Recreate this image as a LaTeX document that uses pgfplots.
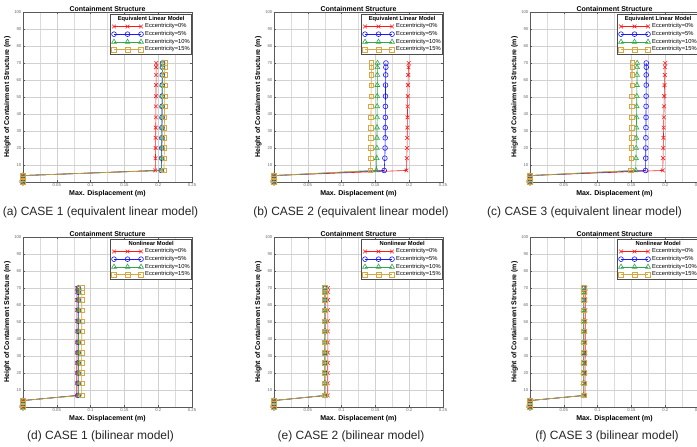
\documentclass[border=0pt]{standalone}
\usepackage{pgfplots}
\pgfplotsset{compat=1.18}
\usepackage{pgfplotstable}
\usepackage{fontspec}
\setmainfont{Liberation Sans}

\definecolor{cRed}{rgb}{1,0.1,0.1}
\definecolor{cBlue}{rgb}{0.1,0.1,1}
\definecolor{cGreen}{rgb}{0.2,0.65,0.3}
\definecolor{cYel}{rgb}{0.85,0.65,0.25}

% columns: h = height (m), e0/e5/e10/e15 = max displacement (m)
\pgfplotstableread{
h    e0     e5     e10    e15
0    0      0      0      0
1.9  0      0      0      0
3.8  0      0      0      0
6.8  0.1955 0.2045 0.2050 0.2085
14   0.1960 0.2050 0.2053 0.2088
20   0.1962 0.2052 0.2055 0.2090
26   0.1963 0.2054 0.2056 0.2091
32   0.1964 0.2055 0.2057 0.2092
38   0.1965 0.2056 0.2058 0.2093
44.5 0.1966 0.2057 0.2059 0.2094
50.5 0.1967 0.2058 0.2060 0.2095
57   0.1968 0.2059 0.2061 0.2096
63   0.1969 0.2060 0.2062 0.2097
67.5 0.1970 0.2062 0.2063 0.2098
70   0.1971 0.2064 0.2064 0.2099
}\tabA
\pgfplotstableread{
h    e0     e5     e10    e15
0    0      0      0      0
1.9  0      0      0      0
3.8  0      0      0      0
6.8  0.1960 0.1630 0.1515 0.1425
14   0.1965 0.1640 0.1520 0.1430
20   0.1968 0.1643 0.1522 0.1432
26   0.1970 0.1645 0.1523 0.1433
32   0.1972 0.1646 0.1524 0.1434
38   0.1974 0.1647 0.1525 0.1435
44.5 0.1976 0.1648 0.1526 0.1436
50.5 0.1979 0.1649 0.1527 0.1437
57   0.1982 0.1650 0.1528 0.1438
63   0.1986 0.1652 0.1529 0.1439
67.5 0.1990 0.1654 0.1530 0.1440
70   0.1993 0.1656 0.1531 0.1441
}\tabB
\pgfplotstableread{
h    e0     e5     e10    e15
0    0      0      0      0
1.9  0      0      0      0
3.8  0      0      0      0
6.8  0.1965 0.1710 0.1565 0.1495
14   0.1968 0.1712 0.1568 0.1498
20   0.1971 0.1713 0.1570 0.1500
26   0.1974 0.1714 0.1572 0.1502
32   0.1977 0.1715 0.1574 0.1504
38   0.1980 0.1716 0.1576 0.1506
44.5 0.1983 0.1717 0.1578 0.1508
50.5 0.1986 0.1718 0.1580 0.1510
57   0.1990 0.1719 0.1582 0.1511
63   0.1994 0.1719 0.1583 0.1512
67.5 0.1997 0.1720 0.1584 0.1514
70   0.2000 0.1720 0.1585 0.1515
}\tabC
\pgfplotstableread{
h    e0     e5     e10    e15
0    0      0      0      0
1.9  0      0      0      0
3.8  0      0      0      0
6.8  0.0795 0.0815 0.0820 0.0866
14   0.0795 0.0815 0.0820 0.0867
20   0.0795 0.0815 0.0820 0.0867
26   0.0796 0.0816 0.0821 0.0868
32   0.0796 0.0816 0.0821 0.0868
38   0.0796 0.0816 0.0821 0.0868
44.5 0.0797 0.0817 0.0822 0.0869
50.5 0.0797 0.0817 0.0822 0.0869
57   0.0797 0.0817 0.0822 0.0869
63   0.0798 0.0818 0.0823 0.0870
67.5 0.0798 0.0818 0.0823 0.0870
70   0.0798 0.0818 0.0823 0.0870
}\tabD
\pgfplotstableread{
h    e0     e5     e10    e15
0    0      0      0      0
1.9  0      0      0      0
3.8  0      0      0      0
6.8  0.0795 0.0752 0.0750 0.0748
14   0.0795 0.0752 0.0750 0.0748
20   0.0795 0.0752 0.0750 0.0748
26   0.0796 0.0753 0.0751 0.0749
32   0.0796 0.0753 0.0751 0.0749
38   0.0796 0.0753 0.0751 0.0749
44.5 0.0797 0.0754 0.0752 0.0750
50.5 0.0797 0.0754 0.0752 0.0750
57   0.0797 0.0754 0.0752 0.0750
63   0.0798 0.0755 0.0753 0.0751
67.5 0.0798 0.0755 0.0753 0.0751
70   0.0798 0.0755 0.0753 0.0751
}\tabE
\pgfplotstableread{
h    e0     e5     e10    e15
0    0      0      0      0
1.9  0      0      0      0
3.8  0      0      0      0
6.8  0.0815 0.0795 0.0790 0.0795
14   0.0815 0.0795 0.0790 0.0795
20   0.0816 0.0795 0.0790 0.0795
26   0.0816 0.0796 0.0791 0.0796
32   0.0817 0.0796 0.0791 0.0796
38   0.0817 0.0796 0.0791 0.0796
44.5 0.0818 0.0797 0.0792 0.0797
50.5 0.0818 0.0797 0.0792 0.0797
57   0.0819 0.0797 0.0792 0.0797
63   0.0819 0.0798 0.0793 0.0798
67.5 0.0820 0.0798 0.0793 0.0798
70   0.0820 0.0798 0.0793 0.0798
}\tabF

\pgfplotsset{
  panel/.style={
    scale only axis, width=169pt, height=170pt,
    xmin=0, xmax=0.25, ymin=0, ymax=100,
    scaled ticks=false,
    xtick={0,0.05,0.1,0.15,0.2,0.25},
    xticklabels={0,0.05,0.1,0.15,0.2,0.25},
    ytick={0,10,20,30,40,50,60,70,80,90,100},
    yticklabels={0,10,20,30,40,50,60,70,80,90,100},
    minor xtick={0.025,0.075,0.125,0.175,0.225},
    grid=both,
    major grid style={black!18, line width=0.4pt},
    minor grid style={black!14, line width=0.4pt},
    tick align=inside, major tick length=2pt, minor tick length=0pt,
    axis line style={black!65, line width=0.4pt},
    tick style={black!65, line width=0.3pt},
    tick label style={font=\fontsize{4.2}{5}\selectfont, text=black!60, inner sep=1.5pt},
    title={Containment Structure},
    every axis title shift=0pt,
    title style={font=\bfseries\fontsize{7}{8}\selectfont, at={(axis description cs:0.5,1.016)}, anchor=center, yshift=0pt, inner sep=0pt},
    xlabel={Max. Displacement (m)},
    xlabel style={font=\bfseries\fontsize{7}{8}\selectfont, at={(axis description cs:0.5,-0.071)}, anchor=center, inner sep=0pt},
    ylabel={Height of Containment Structure (m)},
    ylabel style={font=\bfseries\fontsize{7}{8}\selectfont, at={(axis description cs:-0.092,0.5)}, anchor=center, inner sep=0pt},
    clip=false,
    legend cell align=left,
    legend style={at={(rel axis cs:1,1)}, anchor=north east, xshift=-0.3pt, yshift=-2pt,
      draw=black!70, fill=white, line width=0.4pt,
      font=\fontsize{5.8}{6.5}\selectfont, inner sep=1pt, row sep=0.6pt,
      nodes={inner sep=0.7pt}},
    legend image code/.code={\draw plot coordinates {(0pt,0pt) (13.5pt,0pt) (27pt,0pt)};},
  },
  sR/.style={cRed, line width=0.6pt, mark=x, mark size=2.6pt, mark options={solid}},
  sB/.style={cBlue, line width=0.6pt, mark=o, mark size=2.4pt, mark options={solid}},
  sG/.style={cGreen, line width=0.6pt, mark=triangle, mark size=2.8pt, mark options={solid}},
  sY/.style={cYel, line width=0.6pt, mark=square, mark size=2.3pt, mark options={solid}},
}

\newcommand{\panel}[4]{%
\begin{axis}[panel, at={(#1pt,#2pt)}, anchor=south west]
\addlegendimage{empty legend}
\addlegendentry{\hspace*{-27pt}\makebox[68pt][c]{\textbf{#4}}}
\addplot[sR] table[x=e0,y=h]{#3}; \addlegendentry{\hspace{1pt}Eccentricity=0\%}
\addplot[sB] table[x=e5,y=h]{#3}; \addlegendentry{\hspace{1pt}Eccentricity=5\%}
\addplot[sG] table[x=e10,y=h]{#3}; \addlegendentry{\hspace{1pt}Eccentricity=10\%}
\addplot[sY] table[x=e15,y=h]{#3}; \addlegendentry{\hspace{1pt}Eccentricity=15\%}
\end{axis}}

\begin{document}
\begin{tikzpicture}
\useasboundingbox (0pt,0pt) rectangle (697pt,-447pt);
\clip (0pt,0pt) rectangle (697pt,-447pt);
\panel{23}{-182}{\tabA}{Equivalent Linear Model}
\panel{274}{-182}{\tabB}{Equivalent Linear Model}
\panel{530}{-182}{\tabC}{Equivalent Linear Model}
\panel{23}{-407}{\tabD}{Nonlinear Model}
\panel{274}{-407}{\tabE}{Nonlinear Model}
\panel{530}{-407}{\tabF}{Nonlinear Model}
\begin{scope}[every node/.style={font=\fontsize{12}{14}\selectfont, text=black!85, inner sep=0pt}]
\node at (100.5pt,-212.5pt) {(a) CASE 1 (equivalent linear model)};
\node at (351pt,-212.5pt) {(b) CASE 2 (equivalent linear model)};
\node[anchor=west] at (487pt,-212.5pt) {(c) CASE 3 (equivalent linear model)};
\node at (100.5pt,-436pt) {(d) CASE 1 (bilinear model)};
\node at (351pt,-436pt) {(e) CASE 2 (bilinear model)};
\node at (607pt,-436pt) {(f) CASE 3 (bilinear model)};
\end{scope}
\end{tikzpicture}
\end{document}
